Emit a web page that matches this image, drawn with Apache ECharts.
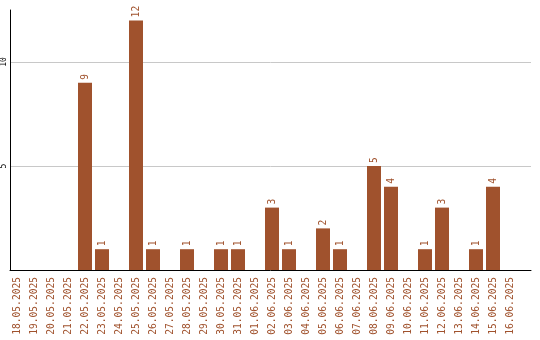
<!DOCTYPE html>
<html>
<head>
<meta charset="utf-8">
<script src="https://cdn.jsdelivr.net/npm/echarts@6/dist/echarts.min.js"></script>
<style>html,body{margin:0;padding:0;background:#fff;}#c{width:540px;height:340px;}</style>
</head>
<body>
<div id="c"></div>
<script>
var categories = ["18.05.2025","19.05.2025","20.05.2025","21.05.2025","22.05.2025","23.05.2025","24.05.2025","25.05.2025","26.05.2025","27.05.2025","28.05.2025","29.05.2025","30.05.2025","31.05.2025","01.06.2025","02.06.2025","03.06.2025","04.06.2025","05.06.2025","06.06.2025","07.06.2025","08.06.2025","09.06.2025","10.06.2025","11.06.2025","12.06.2025","13.06.2025","14.06.2025","15.06.2025","16.06.2025"];
var values = [0,0,0,0,9,1,0,12,1,0,1,0,1,1,0,3,1,0,2,1,0,5,4,0,1,3,0,1,4,0];
var yMin = 0, yMax = 12.5, yStep = 5;

var BAR = '#A0522D';
var chart = echarts.init(document.getElementById('c'), null, {renderer: 'canvas'});
chart.setOption({
  animation: false,
  backgroundColor: '#fff',
  grid: [
    {left: 10, right: 9, top: 10, bottom: 70},
    {left: 8.5, width: 510, top: 10, bottom: 70}
  ],
  xAxis: [
    {gridIndex: 0, type: 'value', min: 0, max: 1,
     axisLine: {show: true, lineStyle: {color: '#000', width: 1}},
     axisTick: {show: false}, axisLabel: {show: false}, splitLine: {show: false}},
    {gridIndex: 1, type: 'category', data: categories,
     axisLine: {show: false}, axisTick: {show: false},
     axisLabel: {interval: 0, rotate: 90, margin: 7, color: BAR,
       fontFamily: 'DejaVu Sans Mono', fontSize: 9.6}}
  ],
  yAxis: [
    {gridIndex: 0, type: 'value', min: yMin, max: yMax, interval: yStep,
     axisLine: {show: true, lineStyle: {color: '#000', width: 1}},
     axisTick: {show: false},
     axisLabel: {rotate: 90, margin: 2, color: '#000', fontFamily: 'DejaVu Sans Mono', fontSize: 8,
       showMinLabel: false, showMaxLabel: false,
       formatter: function (v) { return (v % yStep === 0 && v !== 0) ? String(v) : ''; }},
     splitLine: {show: true, showMinLine: false, showMaxLine: false, lineStyle: {color: '#c8c8c8', width: 1}}},
    {gridIndex: 1, type: 'value', min: yMin, max: yMax, show: false}
  ],
  series: [{
    type: 'bar', xAxisIndex: 1, yAxisIndex: 1, data: values,
    barWidth: 14,
    itemStyle: {color: BAR},
    label: {show: true, position: 'top', rotate: 90, align: 'left', verticalAlign: 'middle',
      distance: 3, color: BAR, fontFamily: 'DejaVu Sans Mono', fontSize: 9.6,
      formatter: function (p) { return p.value ? String(p.value) : ''; }}
  }]
});
</script>
</body>
</html>
